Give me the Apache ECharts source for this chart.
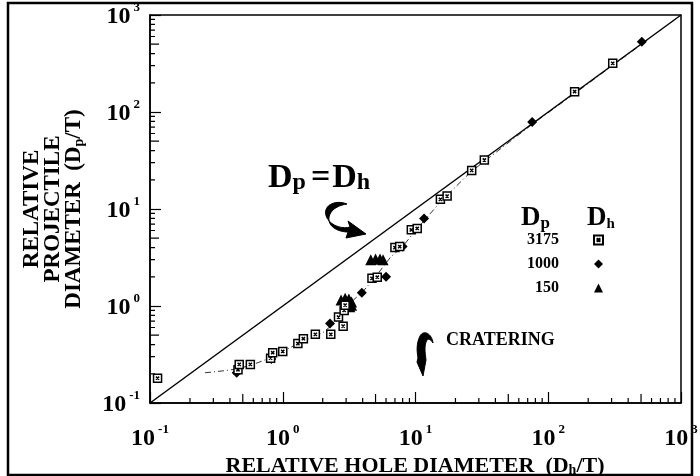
<!DOCTYPE html>
<html>
<head>
<meta charset="utf-8">
<script src="https://cdn.jsdelivr.net/npm/echarts@6/dist/echarts.min.js"></script>
<style>html,body{margin:0;padding:0;background:#fff}#c{width:700px;height:476px}</style>
</head>
<body>
<div id="c"></div>
<script>
// ---- data ----
const decadeTicks = [0.1, 1, 10, 100, 1000];
const minorMultipliers = [2, 3, 4, 5, 6, 7, 8, 9];

const dp3175 = [
  [0.114, 0.18], [0.46, 0.22], [0.47, 0.25], [0.57, 0.25], [0.81, 0.29], [0.84, 0.33],
  [1.0, 0.34], [1.3, 0.41], [1.43, 0.46], [1.76, 0.51], [2.3, 0.51], [2.63, 0.77],
  [2.85, 0.62], [2.9, 0.9], [2.95, 1.02], [4.7, 1.93], [5.15, 1.98], [7.0, 4.0],
  [7.6, 4.1], [9.3, 6.1], [10.3, 6.3], [15.4, 12.6], [17.3, 13.6], [26.5, 25],
  [33, 32], [158, 162], [306, 318]
];
const dp1000 = [
  [0.45, 0.205], [0.82, 0.285], [2.27, 0.66], [3.94, 1.37], [6.0, 2.0], [8.0, 4.1],
  [11.6, 8.0], [75.7, 79], [507, 531]
];
const dp150 = [
  [2.75, 1.15], [2.95, 1.2], [3.15, 1.18], [3.3, 1.1], [3.2, 0.98], [3.3, 1.02],
  [4.6, 3.0], [5.0, 3.05], [5.4, 3.05], [5.7, 3.0]
];
const trendLine = [
  [0.26, 0.205], [0.36, 0.215], [0.46, 0.225], [0.6, 0.25], [0.85, 0.3], [1.0, 0.34],
  [1.4, 0.43], [2.0, 0.53], [2.5, 0.68], [3.0, 0.9], [3.4, 1.15], [4.0, 1.4],
  [5.0, 2.0], [6.5, 3.2], [8.0, 4.1], [10, 6], [12, 8], [16, 12.5], [26, 24],
  [33, 31], [75, 74], [160, 157], [310, 306], [560, 555]
];
const equalityLine = [[0.1, 0.1], [1000, 1000]];

// minor tick positions: 2..9 within each decade
const minorTicks = [];
decadeTicks.slice(0, -1).forEach(d => minorMultipliers.forEach(m => minorTicks.push(+(d * m).toPrecision(3))));

const FONT = '"Liberation Serif", "Times New Roman", serif';
const squareSym = 'path://M0,0L10,0L10,10L0,10Z M3,3L7,7 M3,7L7,3';

// annotation arrow outlines (pixel space)
const arrowPaths = [
  'M347,204 C335,199 321,206 327,218 C332,227 344,229 350,227 L348,221 L366,234 L346,238 L348,232 C338,232 325,226 330,214 C333,208 340,205 347,204 Z',
  'M433,343 C432,334 424,329 420,336 C416,344 417,352 418,358 L417,362 L423,376 L426,360 C425,352 424,345 427,340 C429,338 431,340 433,343 Z'
];

function powLabel(v) {
  const e = Math.round(Math.log10(v));
  return '{b|10}{s|' + e + '}';
}
const labelRich = {
  b: { fontFamily: FONT, fontWeight: 'bold', fontSize: 24, color: '#000', lineHeight: 28, verticalAlign: 'bottom' },
  s: { fontFamily: FONT, fontWeight: 'bold', fontSize: 13, color: '#000', lineHeight: 28, verticalAlign: 'top', padding: [0, 0, 0, 3] }
};

const chart = echarts.init(document.getElementById('c'), null, { renderer: 'canvas' });

function tickLen(v) {
  const mant = v / Math.pow(10, Math.floor(Math.log10(v) + 1e-9));
  return Math.abs(mant - 5) < 1e-6 ? 9 : 5;
}

const option = {
  backgroundColor: '#fff',
  animation: false,
  grid: {
    left: 150, right: 19, top: 15, bottom: 73, containLabel: false, outerBoundsMode: 'none',
    show: true, borderColor: '#000', borderWidth: 1.5, backgroundColor: 'transparent'
  },
  xAxis: {
    type: 'log', logBase: 10, min: 0.1, max: 1000,
    axisLine: { show: true, lineStyle: { color: '#000', width: 1.5 } },
    axisTick: { show: true, inside: true, length: 11, lineStyle: { color: '#000', width: 1.2 } },
    splitLine: { show: false },
    axisLabel: { formatter: powLabel, rich: labelRich, margin: 20 }
  },
  yAxis: {
    type: 'log', logBase: 10, min: 0.1, max: 1000,
    axisLine: { show: true, lineStyle: { color: '#000', width: 1.5 } },
    axisTick: { show: true, inside: true, length: 11, lineStyle: { color: '#000', width: 1.2 } },
    splitLine: { show: false },
    axisLabel: { formatter: powLabel, rich: labelRich, margin: 10 },
    name: '{a|RELATIVE}\n{a|PROJECTILE}\n{a|DIAMETER  (D}{s|p}{a|/T)}',
    nameLocation: 'middle', nameGap: 64, nameRotate: 90,
    nameTextStyle: {
      rich: {
        a: { fontFamily: FONT, fontWeight: 'bold', fontSize: 23, color: '#000', lineHeight: 21, verticalAlign: 'bottom' },
        s: { fontFamily: FONT, fontWeight: 'bold', fontSize: 14, color: '#000', lineHeight: 18, verticalAlign: 'bottom' }
      }
    }
  },
  legend: {
    orient: 'vertical', left: 522, top: 227, align: 'right', itemGap: 8,
    itemWidth: 9, itemHeight: 9,
    data: ['3175', '1000', '150'],
    formatter: name => '{n|' + name + '}{g|}',
    textStyle: {
      rich: {
        n: { fontFamily: FONT, fontWeight: 'bold', fontSize: 16, color: '#000', width: 44, align: 'right' },
        g: { width: 30 }
      }
    }
  },
  series: [
    {
      type: 'line', data: equalityLine, symbol: 'none', silent: true,
      lineStyle: { color: '#000', width: 1.5 }, z: 2
    },
    {
      type: 'line', data: trendLine, symbol: 'none', silent: true, smooth: false,
      lineStyle: { color: '#000', width: 0.8, type: [6, 3, 1, 3] }, z: 2
    },
    {
      name: '3175', type: 'scatter', data: dp3175, symbol: squareSym, symbolSize: 8, symbolKeepAspect: true,
      itemStyle: { color: '#fff', borderColor: '#000', borderWidth: 1.5, opacity: 1 }, z: 4
    },
    {
      name: '1000', type: 'scatter', data: dp1000, symbol: 'diamond', symbolSize: 10,
      itemStyle: { color: '#000', opacity: 1 }, z: 3
    },
    {
      name: '150', type: 'scatter', data: dp150, symbol: 'triangle', symbolSize: 11,
      itemStyle: { color: '#000', opacity: 1 }, z: 3
    },
    {
      // minor ticks along the bottom and left axes (positions from the axis scales)
      type: 'custom', data: minorTicks.map(v => [v, v]), silent: true, clip: false, z: 6,
      encode: { x: 0, y: 1 },
      renderItem: function (params, api) {
        const v = api.value(0);
        const p = api.coord([v, v]);
        const cs = params.coordSys;
        const bottom = cs.y + cs.height;
        const left = cs.x;
        const len = tickLen(v);
        return {
          type: 'path',
          shape: { pathData: 'M' + p[0] + ',' + bottom + 'L' + p[0] + ',' + (bottom - len) + 'M' + left + ',' + p[1] + 'L' + (left + len) + ',' + p[1] },
          style: { fill: 'none', stroke: '#000', lineWidth: 1.2 }
        };
      }
    },
    {
      type: 'custom', data: arrowPaths.map((p, i) => [1, 1, i]), silent: true, clip: false, z: 5,
      encode: { x: 0, y: 1 },
      renderItem: function (params, api) {
        return { type: 'path', shape: { pathData: arrowPaths[params.dataIndex] }, style: { fill: '#000', stroke: '#000', lineWidth: 1 } };
      }
    }
  ],
  graphic: [
    { type: 'rect', shape: { x: 8, y: 3, width: 684, height: 472 }, style: { fill: 'none', stroke: '#000', lineWidth: 2.5 }, silent: true },
    {
      // x-axis title
      type: 'text', x: 415, y: 464,
      style: {
        text: '{a|RELATIVE HOLE DIAMETER  (D}{s|h}{a|/T)}',
        align: 'center', verticalAlign: 'middle',
        rich: {
          a: { fontFamily: FONT, fontWeight: 'bold', fontSize: 22, fill: '#000', lineHeight: 26, verticalAlign: 'bottom' },
          s: { fontFamily: FONT, fontWeight: 'bold', fontSize: 14, fill: '#000', lineHeight: 22, verticalAlign: 'bottom' }
        }
      }
    },
    {
      type: 'text', x: 268, y: 175,
      style: {
        text: '{D|D}{s|p}{e|=}{D|D}{s|h}',
        verticalAlign: 'middle',
        rich: {
          D: { fontFamily: FONT, fontWeight: 'bold', fontSize: 34, fill: '#000', lineHeight: 40, verticalAlign: 'bottom' },
          s: { fontFamily: FONT, fontWeight: 'bold', fontSize: 24, fill: '#000', lineHeight: 32, verticalAlign: 'bottom' },
          e: { fontFamily: FONT, fontWeight: 'bold', fontSize: 34, fill: '#000', lineHeight: 40, verticalAlign: 'bottom', padding: [0, 2, 0, 5] }
        }
      }
    },
    {
      type: 'text', x: 521, y: 217,
      style: {
        text: '{D|D}{s|p}',
        verticalAlign: 'middle',
        rich: {
          D: { fontFamily: FONT, fontWeight: 'bold', fontSize: 27, fill: '#000', lineHeight: 30, verticalAlign: 'bottom' },
          s: { fontFamily: FONT, fontWeight: 'bold', fontSize: 17, fill: '#000', lineHeight: 24, verticalAlign: 'bottom' }
        }
      }
    },
    {
      type: 'text', x: 587, y: 217,
      style: {
        text: '{D|D}{s|h}',
        verticalAlign: 'middle',
        rich: {
          D: { fontFamily: FONT, fontWeight: 'bold', fontSize: 27, fill: '#000', lineHeight: 30, verticalAlign: 'bottom' },
          s: { fontFamily: FONT, fontWeight: 'bold', fontSize: 15, fill: '#000', lineHeight: 26, verticalAlign: 'bottom' }
        }
      }
    },
    {
      type: 'text', x: 446, y: 340,
      style: { text: 'CRATERING', fontFamily: FONT, fontWeight: 'bold', fontSize: 18, fill: '#000', verticalAlign: 'middle' }
    }
  ]
};
chart.setOption(option);
</script>
</body>
</html>
